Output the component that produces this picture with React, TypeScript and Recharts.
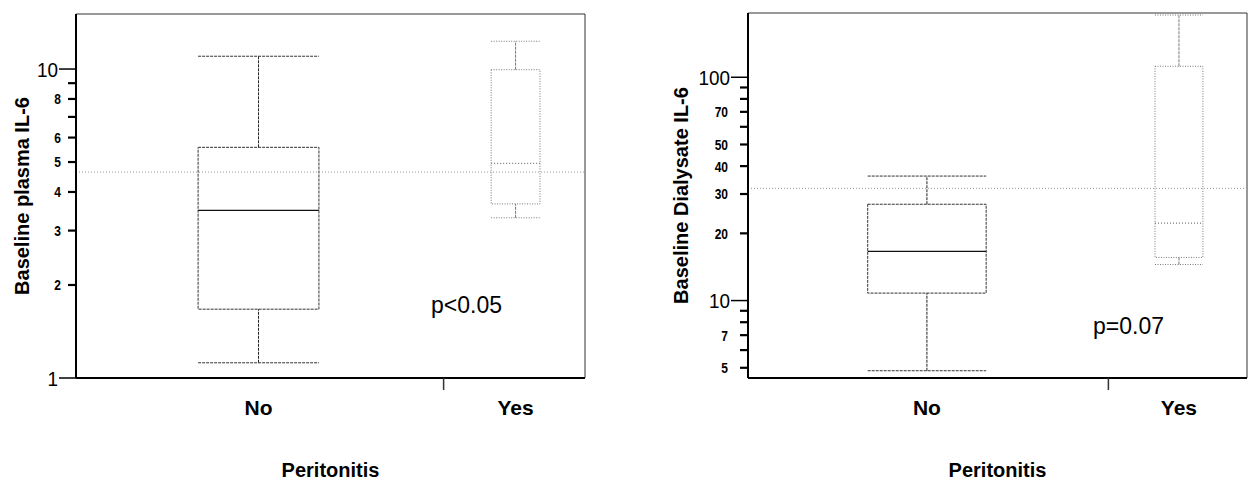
import React from "react";
import {
  ComposedChart,
  XAxis,
  YAxis,
  Scatter,
  ReferenceArea,
  ReferenceLine,
} from "recharts";

// groups on the x axis
const categories = ["No", "Yes"];
const categoryPos = [1, 2];

// baseline plasma IL-6 (left panel)
const plasmaMin = [1.12, 3.3];
const plasmaQ1 = [1.67, 3.66];
const plasmaMedian = [3.49, 4.95];
const plasmaQ3 = [5.58, 9.95];
const plasmaMax = [11.0, 12.3];
const plasmaRef = 4.64;
const plasmaTicks = [1, 2, 3, 4, 5, 6, 7, 8, 9, 10];
const plasmaTickLabels = [1, 2, 3, 4, 5, 6, 8, 10];
const plasmaBigTicks = [1, 10];

// baseline dialysate IL-6 (right panel)
const dialMin = [4.85, 14.5];
const dialQ1 = [10.8, 15.6];
const dialMedian = [16.6, 22.2];
const dialQ3 = [27.0, 112];
const dialMax = [36.1, 190];
const dialRef = 31.8;
const dialTicks = [5, 6, 7, 8, 9, 10, 20, 30, 40, 50, 60, 70, 80, 90, 100];
const dialTickLabels = [5, 7, 10, 20, 30, 40, 50, 70, 100];
const dialBigTicks = [10, 100];

const X_DOMAIN: [number, number] = [0.29, 2.27];
const SEP_TICK = 1.72;
const BOX_WIDTH = [0.47, 0.19];
const BOX_STYLE = [
  { stroke: "#333", dash: "3 1", whisker: "#222", median: "#111", medianDash: undefined },
  { stroke: "#777", dash: "1 1.5", whisker: "#777", median: "#777", medianDash: "1 2" },
];

const FONT = '"Liberation Sans", Arial, sans-serif';

type PanelProps = {
  width: number;
  yAxisWidth: number;
  marginTop: number;
  marginRight: number;
  min: number[];
  q1: number[];
  median: number[];
  q3: number[];
  max: number[];
  refValue: number;
  domain: [number, number];
  ticks: number[];
  tickLabels: number[];
  bigTicks: number[];
  labelGap: number;
  title: string;
  titleDx: number;
};

function YTick(props: any) {
  const { x, y, payload, tickLabels, bigTicks, labelGap } = props;
  const v = payload.value;
  const labeled = tickLabels.includes(v);
  const big = bigTicks.includes(v);
  const len = big ? 17 : 8;
  const tx = x - len - (big ? 1 : labelGap);
  return (
    <g>
      <line x1={x - len} x2={x} y1={y} y2={y} stroke="#000" strokeWidth={big ? 1.5 : 2.2} />
      {labeled && (
        <text
          transform={`translate(${tx},${y}) scale(${big ? 0.9 : 0.8},1)`}
          dy="0.36em"
          textAnchor="end"
          fontSize={big ? 21 : 15}
          fontWeight={big ? 400 : 700}
          fill="#000"
        >
          {v}
        </text>
      )}
    </g>
  );
}

function XTick(props: any) {
  const { x, y, payload } = props;
  const v = payload.value;
  const idx = categoryPos.indexOf(v);
  if (idx < 0) {
    return <line x1={x} x2={x} y1={y} y2={y + 12} stroke="#333" strokeWidth={1.5} />;
  }
  return (
    <text x={x} y={y + 37} textAnchor="middle" fontSize={21} fontWeight={700} fill="#000">
      {categories[idx]}
    </text>
  );
}

function BoxPanel(p: PanelProps) {
  const rows = categories.map((c, i) => ({ pos: categoryPos[i], median: p.median[i], name: c }));
  return (
    <ComposedChart
      width={p.width}
      height={481}
      data={rows}
      margin={{ top: p.marginTop, right: p.marginRight, bottom: 0, left: 0 }}
    >
      <XAxis
        type="number"
        dataKey="pos"
        domain={X_DOMAIN}
        allowDataOverflow
        ticks={[1, SEP_TICK, 2]}
        interval={0}
        height={103}
        tickSize={0}
        tickMargin={0}
        tickLine={false}
        axisLine={{ stroke: "#000", strokeWidth: 2 }}
        tick={(t: any) => <XTick {...t} />}
        label={{
          value: "Peritonitis",
          position: "insideBottom",
          offset: 4,
          fontSize: 20,
          fontWeight: 700,
          fill: "#000",
        }}
      />
      <YAxis
        type="number"
        scale="log"
        domain={p.domain}
        allowDataOverflow
        ticks={p.ticks}
        interval={0}
        width={p.yAxisWidth}
        tickSize={0}
        tickMargin={0}
        tickLine={false}
        axisLine={{ stroke: "#000", strokeWidth: 2 }}
        tick={(t: any) => (
          <YTick {...t} tickLabels={p.tickLabels} bigTicks={p.bigTicks} labelGap={p.labelGap} />
        )}
        label={{
          value: p.title,
          angle: -90,
          position: "center",
          dx: p.titleDx,
          fontSize: 20,
          fontWeight: 700,
          fill: "#000",
        }}
      />
      <ReferenceArea
        x1={X_DOMAIN[0]}
        x2={X_DOMAIN[1]}
        y1={p.domain[0]}
        y2={p.domain[1]}
        fill="none"
        fillOpacity={0}
        stroke="#333"
        strokeWidth={1}
      />
      <ReferenceLine y={p.refValue} stroke="#999" strokeDasharray="1 2" />
      {categories.map((c, i) => {
        const x = categoryPos[i];
        const hw = BOX_WIDTH[i] / 2;
        const s = BOX_STYLE[i];
        return [
          <ReferenceArea
            key={`box-${c}`}
            x1={x - hw}
            x2={x + hw}
            y1={p.q1[i]}
            y2={p.q3[i]}
            fill="none"
            fillOpacity={0}
            stroke={s.stroke}
            strokeDasharray={s.dash}
          />,
          <ReferenceLine
            key={`med-${c}`}
            segment={[
              { x: x - hw, y: p.median[i] },
              { x: x + hw, y: p.median[i] },
            ]}
            stroke={s.median}
            strokeWidth={1.2}
            strokeDasharray={s.medianDash}
          />,
          <ReferenceLine
            key={`wu-${c}`}
            segment={[
              { x, y: p.q3[i] },
              { x, y: p.max[i] },
            ]}
            stroke={s.whisker}
            strokeDasharray="3 1"
          />,
          <ReferenceLine
            key={`wl-${c}`}
            segment={[
              { x, y: p.min[i] },
              { x, y: p.q1[i] },
            ]}
            stroke={s.whisker}
            strokeDasharray="3 1"
          />,
          <ReferenceLine
            key={`cu-${c}`}
            segment={[
              { x: x - hw, y: p.max[i] },
              { x: x + hw, y: p.max[i] },
            ]}
            stroke={s.stroke}
            strokeDasharray={s.dash}
          />,
          <ReferenceLine
            key={`cl-${c}`}
            segment={[
              { x: x - hw, y: p.min[i] },
              { x: x + hw, y: p.min[i] },
            ]}
            stroke={s.stroke}
            strokeDasharray={s.dash}
          />,
        ];
      })}
      <Scatter dataKey="median" isAnimationActive={false} shape={() => <g />} />
    </ComposedChart>
  );
}

export default function App() {
  return (
    <div
      style={{
        position: "fixed",
        left: 0,
        top: 0,
        width: 1248,
        height: 481,
        background: "#fff",
        fontFamily: FONT,
      }}
    >
      <div style={{ position: "absolute", left: 0, top: 0 }}>
        <BoxPanel
          width={624}
          yAxisWidth={76}
          marginTop={14}
          marginRight={39}
          min={plasmaMin}
          q1={plasmaQ1}
          median={plasmaMedian}
          q3={plasmaQ3}
          max={plasmaMax}
          refValue={plasmaRef}
          domain={[1, 15.07]}
          ticks={plasmaTicks}
          tickLabels={plasmaTickLabels}
          bigTicks={plasmaBigTicks}
          labelGap={7}
          title="Baseline plasma IL-6"
          titleDx={-16}
        />
      </div>
      <div style={{ position: "absolute", left: 624, top: 0 }}>
        <BoxPanel
          width={624}
          yAxisWidth={124}
          marginTop={13}
          marginRight={1}
          min={dialMin}
          q1={dialQ1}
          median={dialMedian}
          q3={dialQ3}
          max={dialMax}
          refValue={dialRef}
          domain={[4.5, 194]}
          ticks={dialTicks}
          tickLabels={dialTickLabels}
          bigTicks={dialBigTicks}
          labelGap={12}
          title="Baseline Dialysate IL-6"
          titleDx={-5}
        />
      </div>
      <div style={{ position: "absolute", left: 431, top: 294, fontSize: 23, lineHeight: "23px" }}>
        p&lt;0.05
      </div>
      <div style={{ position: "absolute", left: 1093, top: 315, fontSize: 23, lineHeight: "23px" }}>
        p=0.07
      </div>
    </div>
  );
}
